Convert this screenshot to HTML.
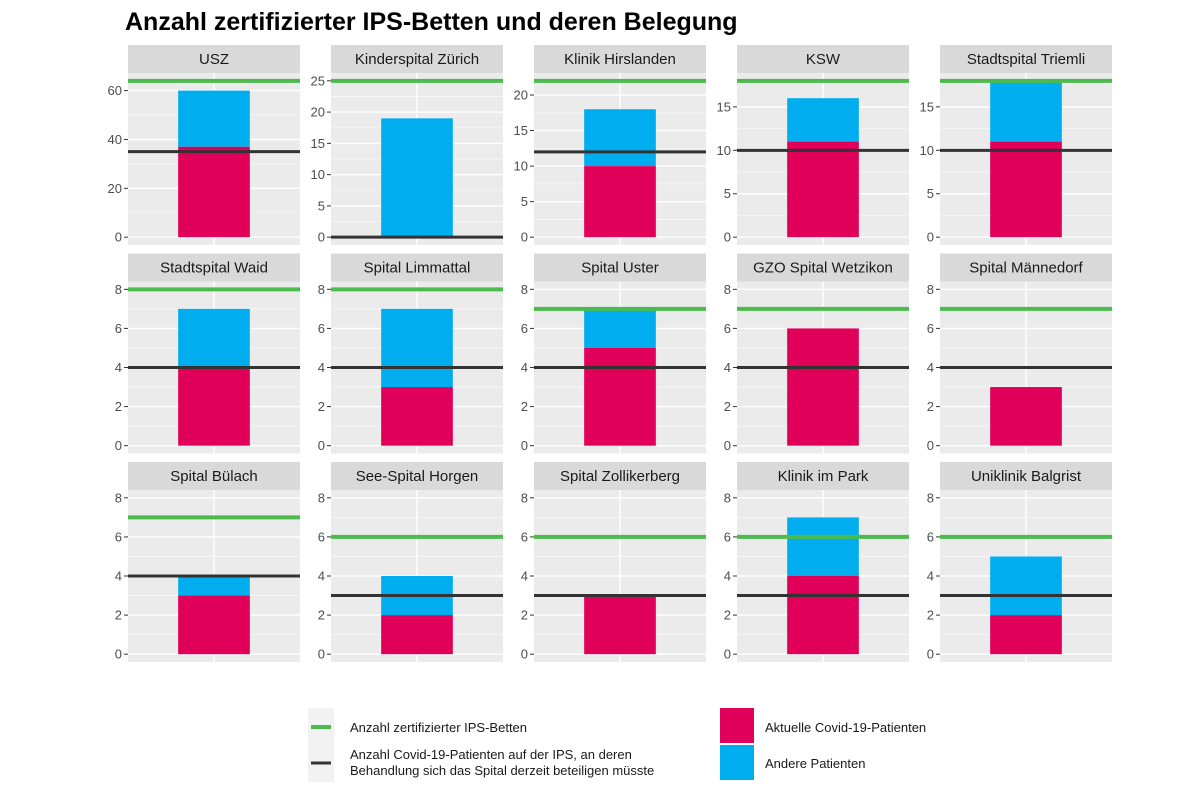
<!DOCTYPE html>
<html><head><meta charset="utf-8"><style>
body{margin:0;background:#fff;}
svg{display:block;font-family:"Liberation Sans",sans-serif;}
</style></head><body>
<svg id="chart" width="1200" height="800">
<text x="125" y="30" font-size="25" font-weight="bold" fill="#000">Anzahl zertifizierter IPS-Betten und deren Belegung</text>
<g id="panels"></g>
<g>
<rect x="308" y="708" width="26" height="74" fill="#f2f2f2"/>
<line x1="311" x2="331" y1="727" y2="727" stroke="#4cbb4c" stroke-width="4"/>
<line x1="311" x2="331" y1="763" y2="763" stroke="#333" stroke-width="3"/>
<text x="350" y="732" font-size="13" fill="#1a1a1a">Anzahl zertifizierter IPS-Betten</text>
<text x="350" y="759" font-size="13" fill="#1a1a1a">Anzahl Covid-19-Patienten auf der IPS, an deren</text>
<text x="350" y="775" font-size="13" fill="#1a1a1a">Behandlung sich das Spital derzeit beteiligen müsste</text>
<rect x="720" y="708" width="34" height="35" fill="#e0005a"/>
<rect x="720" y="745" width="34" height="35" fill="#00aeef"/>
<text x="765" y="732" font-size="13" fill="#1a1a1a">Aktuelle Covid-19-Patienten</text>
<text x="765" y="768" font-size="13" fill="#1a1a1a">Andere Patienten</text>
</g>
</svg>
<script>
const hospitals=["USZ","Kinderspital Zürich","Klinik Hirslanden","KSW","Stadtspital Triemli","Stadtspital Waid","Spital Limmattal","Spital Uster","GZO Spital Wetzikon","Spital Männedorf","Spital Bülach","See-Spital Horgen","Spital Zollikerberg","Klinik im Park","Uniklinik Balgrist"];
const certifiedBeds=[64,25,22,18,18,8,8,7,7,7,7,6,6,6,6];
const covidShare=[35,0,12,10,10,4,4,4,4,4,4,3,3,3,3];
const covidPatients=[37,0,10,11,11,4,3,5,6,3,3,2,3,4,2];
const otherPatients=[23,19,8,5,7,3,4,2,0,0,1,2,0,3,3];
const yMax=[64,25,22,18,18,8,8,8,8,8,8,8,8,8,8];
const yTicks=[[0,20,40,60],[0,5,10,15,20,25],[0,5,10,15,20],[0,5,10,15],[0,5,10,15],[0,2,4,6,8],[0,2,4,6,8],[0,2,4,6,8],[0,2,4,6,8],[0,2,4,6,8],[0,2,4,6,8],[0,2,4,6,8],[0,2,4,6,8],[0,2,4,6,8],[0,2,4,6,8]];
const NS="http://www.w3.org/2000/svg";
const g=document.getElementById("panels");
function mk(tag,attrs,parent){const e=document.createElementNS(NS,tag);for(const k in attrs)e.setAttribute(k,attrs[k]);parent.appendChild(e);return e;}
const W=172,H=172,STRIP=28;
hospitals.forEach((name,i)=>{
  const col=i%5,row=Math.floor(i/5);
  const x0=128+col*203, sy=45+row*208.5, py=sy+STRIP;
  const M=yMax[i], lo=-0.05*M, hi=1.05*M;
  const y=v=>py+H-(v-lo)/(hi-lo)*H;
  const xc=x0+W/2, bw=W*0.5/1.2;
  const pg=mk("g",{},g);
  
  
  const st=mk("rect",{x:x0,y:sy,width:W,height:STRIP,fill:"#d9d9d9"},pg);
  
  
  const stt=mk("text",{x:xc,y:sy+19,"font-size":15,"text-anchor":"middle",fill:"#1a1a1a"},pg);
  stt.textContent=name;
  
  
  mk("rect",{x:x0,y:py,width:W,height:H,fill:"#ebebeb"},pg);
  const t=yTicks[i];
  for(let k=0;k<t.length-1;k++){const m=(t[k]+t[k+1])/2;mk("line",{x1:x0,x2:x0+W,y1:y(m),y2:y(m),stroke:"#f7f7f7","stroke-width":0.8},pg);}
  t.forEach(v=>{
    mk("line",{x1:x0,x2:x0+W,y1:y(v),y2:y(v),stroke:"#fff","stroke-width":1.4},pg);
    mk("line",{x1:x0-4,x2:x0,y1:y(v),y2:y(v),stroke:"#333","stroke-width":1},pg);
    const tl=mk("text",{x:x0-6,y:y(v)+4.5,"font-size":13,"text-anchor":"end",fill:"#4d4d4d"},pg);
    tl.textContent=v;
    
    
  });
  mk("line",{x1:xc,x2:xc,y1:py,y2:py+H,stroke:"#fff","stroke-width":1.4},pg);
  const tot=covidPatients[i]+otherPatients[i];
  if(otherPatients[i]>0){const b=mk("rect",{x:xc-bw/2,y:y(tot),width:bw,height:y(covidPatients[i])-y(tot),fill:"#00aeef"},pg);
    
    }
  if(covidPatients[i]>0){const b=mk("rect",{x:xc-bw/2,y:y(covidPatients[i]),width:bw,height:y(0)-y(covidPatients[i]),fill:"#e0005a"},pg);
    
    }
  const bl=mk("line",{x1:x0,x2:x0+W,y1:y(covidShare[i]),y2:y(covidShare[i]),stroke:"#333","stroke-width":3},pg);
  
  
  const gl=mk("line",{x1:x0,x2:x0+W,y1:y(certifiedBeds[i]),y2:y(certifiedBeds[i]),stroke:"#4cbb4c","stroke-width":4},pg);
  
  
});
</script>
</body></html>
